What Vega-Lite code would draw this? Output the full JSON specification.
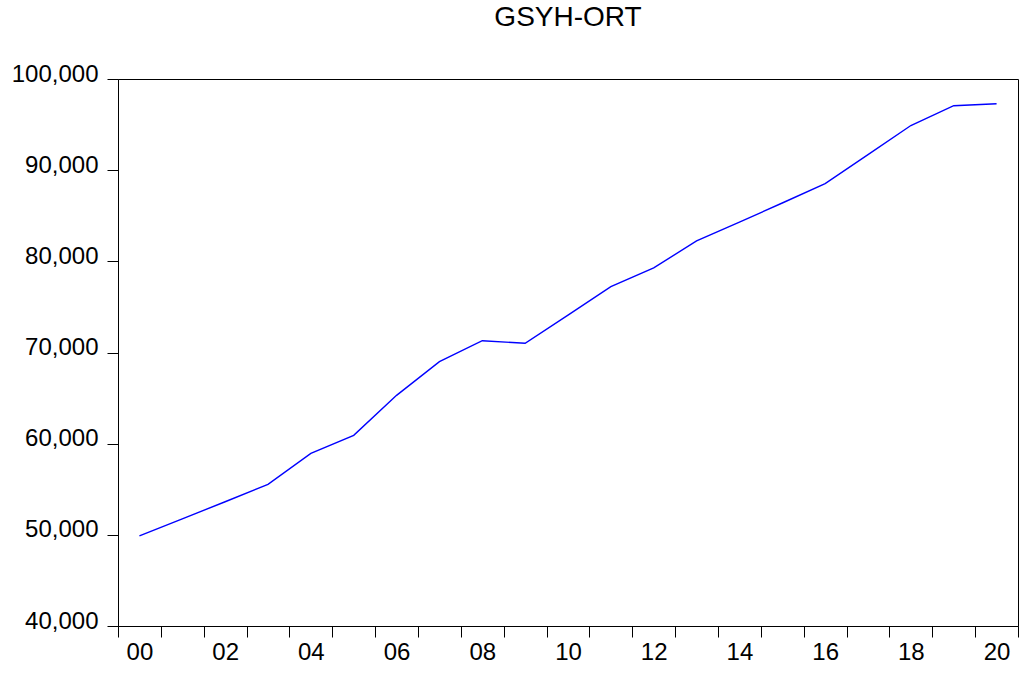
{
  "$schema": "https://vega.github.io/schema/vega-lite/v6.json",
  "autosize": {"type": "none"},
  "width": 900,
  "height": 547,
  "padding": {"left": 118, "top": 79, "right": 3, "bottom": 47},
  "background": "white",
  "title": {
    "text": "GSYH-ORT",
    "font": "Liberation Sans",
    "fontSize": 28,
    "fontWeight": "normal",
    "color": "black",
    "anchor": "middle",
    "baseline": "alphabetic",
    "offset": 8
  },
  "config": {
    "view": {"stroke": "black", "strokeWidth": 1},
    "axis": {
      "labelFont": "Liberation Sans",
      "labelFontSize": 24,
      "labelColor": "black",
      "domainColor": "black",
      "tickColor": "black",
      "tickSize": 11,
      "grid": false,
      "title": null
    }
  },
  "data": {
    "values": [
      {"year": 2000, "value": 49880},
      {"year": 2001, "value": 51750},
      {"year": 2002, "value": 53630},
      {"year": 2003, "value": 55530},
      {"year": 2004, "value": 58930},
      {"year": 2005, "value": 60910},
      {"year": 2006, "value": 65300},
      {"year": 2007, "value": 68990},
      {"year": 2008, "value": 71290},
      {"year": 2009, "value": 71010},
      {"year": 2010, "value": 74100},
      {"year": 2011, "value": 77220},
      {"year": 2012, "value": 79280},
      {"year": 2013, "value": 82240},
      {"year": 2014, "value": 84300},
      {"year": 2015, "value": 86400},
      {"year": 2016, "value": 88530},
      {"year": 2017, "value": 91700},
      {"year": 2018, "value": 94900},
      {"year": 2019, "value": 97070},
      {"year": 2020, "value": 97290}
    ]
  },
  "mark": {"type": "line", "color": "#0000FF", "strokeWidth": 1.4},
  "encoding": {
    "x": {
      "field": "year",
      "type": "ordinal",
      "sort": "ascending",
      "scale": {"type": "band", "paddingInner": 0, "paddingOuter": 0},
      "axis": {
        "tickBand": "extent",
        "labelAngle": 0,
        "labelPadding": 3,
        "labelBaseline": "top",
        "labelExpr": "datum.value % 2 == 0 ? substring(toString(datum.value), 2) : ''"
      }
    },
    "y": {
      "field": "value",
      "type": "quantitative",
      "scale": {"domain": [40000, 100000], "nice": false, "zero": false},
      "axis": {
        "values": [40000, 50000, 60000, 70000, 80000, 90000, 100000],
        "format": ",d",
        "labelPadding": 9,
        "labelBaseline": "alphabetic",
        "labelOffset": 2
      }
    }
  }
}
